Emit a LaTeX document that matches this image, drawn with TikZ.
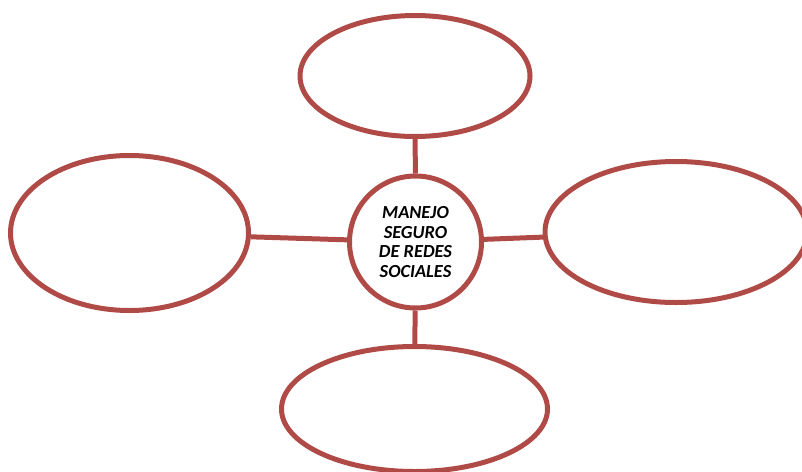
\documentclass[tikz,border=0pt]{standalone}
\usepackage{fontspec}
\newfontfamily\calibri{Carlito}
\usetikzlibrary{shapes.geometric}
\definecolor{rojizo}{RGB}{176,74,70}
\begin{document}
\begin{tikzpicture}[x=0.75pt,y=-0.75pt,
  burbuja/.style={draw=rojizo,line width=3.75pt,ellipse,inner sep=0pt},
  enlace/.style={draw=rojizo,line width=3.75pt}]
\useasboundingbox (0,0) rectangle (802,471);

\node[burbuja,circle,minimum size=99pt,align=center,
  font=\calibri\bfseries\itshape\fontsize{13.8}{14.6}\selectfont]
  (centro) at (415.5,242) {MANEJO\\SEGURO\\DE REDES\\SOCIALES};

\node[burbuja,minimum width=172.5pt,minimum height=90.75pt] (arriba) at (415,76) {};
\node[burbuja,minimum width=178.5pt,minimum height=116.25pt] (izquierda) at (129.5,233) {};
\node[burbuja,minimum width=196.5pt,minimum height=105.75pt] (derecha) at (676,232) {};
\node[burbuja,minimum width=199.5pt,minimum height=93.75pt] (abajo) at (414.5,409) {};

\draw[enlace] (centro) -- (arriba);
\draw[enlace] (centro) -- (izquierda);
\draw[enlace] (centro) -- (derecha);
\draw[enlace] (centro) -- (abajo);
\end{tikzpicture}
\end{document}
